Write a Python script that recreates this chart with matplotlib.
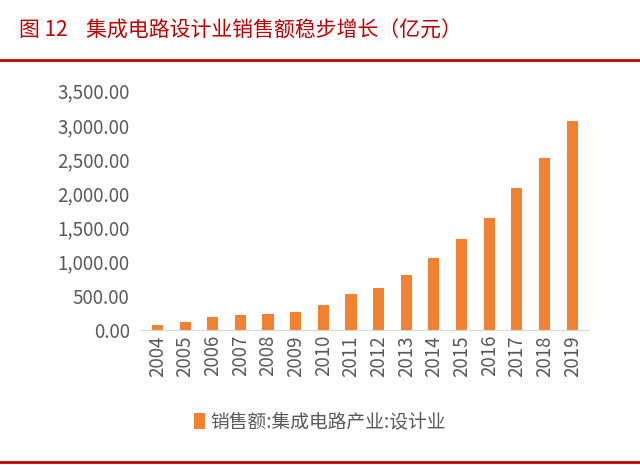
import matplotlib
matplotlib.use("Agg")
import matplotlib.pyplot as plt
from matplotlib.ticker import FuncFormatter

plt.rcParams['font.family'] = ['Noto Sans CJK SC', 'DejaVu Sans']

years = ['2004','2005','2006','2007','2008','2009','2010','2011','2012','2013','2014','2015','2016','2017','2018','2019']
sales = [81.5,124.3,186.2,225.7,235.2,269.9,363.9,526.4,621.7,808.8,1047.4,1325.0,1644.3,2073.5,2519.3,3063.5]
title = '图 12    集成电路设计业销售额稳步增长（亿元）'
legend_label = '销售额:集成电路产业:设计业'

fig = plt.figure(figsize=(6.4, 4.65), dpi=100)
fig.text(0.03, 0.935, title, color='#C00000', fontsize=15, va='center')
fig.add_artist(plt.Line2D([0.0, 1.0], [0.872, 0.872], color='#C00000', lw=2))
fig.add_artist(plt.Line2D([0.0, 1.0], [0.006, 0.006], color='#C00000', lw=2))

ax = fig.add_axes([0.22, 0.29, 0.70, 0.515])
ax.bar(years, sales, width=0.4, color='#F08232', label=legend_label)
ax.set_ylim(0, 3500)
ax.set_yticks(range(0, 3501, 500))
ax.yaxis.set_major_formatter(FuncFormatter(lambda v, p: f'{v:,.2f}'))
ax.tick_params(axis='y', length=0, labelsize=13.5, labelcolor='#595959', pad=8)
ax.tick_params(axis='x', length=0, labelsize=13.5, labelcolor='#595959', rotation=90)
for s in ['top', 'right', 'left']:
    ax.spines[s].set_visible(False)
ax.spines['bottom'].set_color('#D9D9D9')
ax.set_xlim(-0.6, len(years) - 0.4)
fig.legend(loc='center', bbox_to_anchor=(0.5, 0.092), frameon=False, fontsize=13.5,
           handlelength=0.6, handleheight=0.9, handletextpad=0.3, labelcolor='#595959')
fig.savefig('out.png', dpi=100)
